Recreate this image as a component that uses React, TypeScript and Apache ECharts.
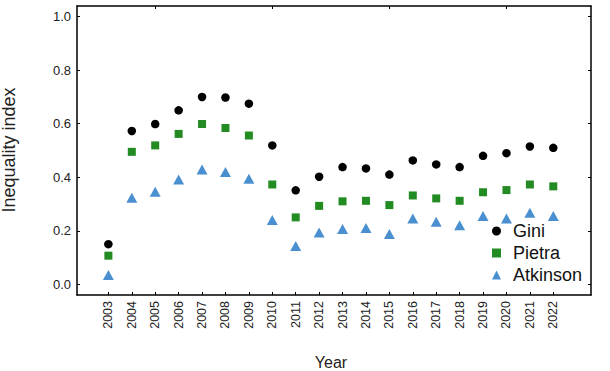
import React, { useEffect, useRef } from "react";
import * as echarts from "echarts";

const years = [2003, 2004, 2005, 2006, 2007, 2008, 2009, 2010, 2011, 2012, 2013, 2014, 2015, 2016, 2017, 2018, 2019, 2020, 2021, 2022];
const gini = [0.15, 0.573, 0.599, 0.65, 0.7, 0.698, 0.675, 0.519, 0.351, 0.402, 0.438, 0.433, 0.41, 0.463, 0.448, 0.438, 0.48, 0.49, 0.515, 0.51];
const pietra = [0.107, 0.495, 0.519, 0.562, 0.599, 0.584, 0.556, 0.373, 0.25, 0.293, 0.31, 0.312, 0.296, 0.332, 0.321, 0.312, 0.344, 0.352, 0.373, 0.366];
const atkinson = [0.035, 0.323, 0.346, 0.392, 0.429, 0.42, 0.394, 0.24, 0.143, 0.194, 0.207, 0.21, 0.188, 0.246, 0.234, 0.221, 0.255, 0.246, 0.267, 0.255];
const yTicks = [0, 0.2, 0.4, 0.6, 0.8, 1.0];
const topTicks = [2005, 2010, 2015, 2020];

const FONT = "'Liberation Sans', Arial, Helvetica, sans-serif";

export default function App() {
  const ref = useRef<HTMLDivElement>(null);
  useEffect(() => {
    if (!ref.current) return;
    const chart = echarts.init(ref.current, undefined, { renderer: "svg" });
    const lineStyle = { color: "#000", width: 1.5 };
    const option: any = {
      animation: false,
      backgroundColor: "#fff",
      textStyle: { fontFamily: FONT },
      grid: { left: 77, top: 6, right: 19, bottom: 76, containLabel: false },
      xAxis: [
        {
          type: "value",
          min: 2001.66,
          max: 2023.61,
          position: "bottom",
          axisLine: { show: true, lineStyle, onZero: false },
          axisTick: { show: true, inside: true, length: 3, customValues: years, lineStyle: { color: "#000", width: 1 } },
          axisLabel: {
            customValues: years,
            rotate: 90,
            margin: 6,
            fontSize: 12.5,
            color: "#222",
            fontFamily: FONT,
            formatter: (v: number) => String(Math.round(v)),
          },
          splitLine: { show: false },
        },
        {
          type: "value",
          min: 2001.66,
          max: 2023.61,
          position: "top",
          axisLine: { show: true, lineStyle, onZero: false },
          axisTick: { show: true, inside: true, length: 3, customValues: topTicks, lineStyle: { color: "#000", width: 1 } },
          axisLabel: { show: false, customValues: topTicks },
          splitLine: { show: false },
        },
      ],
      yAxis: [
        {
          type: "value",
          min: -0.04,
          max: 1.04,
          position: "left",
          axisLine: { show: true, lineStyle, onZero: false },
          axisTick: { show: true, inside: true, length: 3, customValues: yTicks, lineStyle: { color: "#000", width: 1 } },
          axisLabel: {
            customValues: yTicks,
            margin: 6,
            fontSize: 13,
            color: "#222",
            fontFamily: FONT,
            formatter: (v: number) => v.toFixed(1),
          },
          splitLine: { show: false },
        },
        {
          type: "value",
          min: -0.04,
          max: 1.04,
          position: "right",
          axisLine: { show: true, lineStyle, onZero: false },
          axisTick: { show: true, inside: true, length: 3, customValues: yTicks, lineStyle: { color: "#000", width: 1 } },
          axisLabel: { show: false, customValues: yTicks },
          splitLine: { show: false },
        },
      ],
      legend: {
        orient: "vertical",
        left: 492,
        top: 221,
        padding: 0,
        itemWidth: 9,
        itemHeight: 9,
        itemGap: 2,
        textStyle: { fontSize: 18, lineHeight: 20, color: "#111", fontFamily: FONT, padding: [0, 0, 0, 7] },
        data: [
          { name: "Gini", icon: "circle" },
          { name: "Pietra", icon: "rect" },
          { name: "Atkinson", icon: "triangle" },
        ],
      },
      series: [
        {
          name: "Gini",
          type: "scatter",
          symbol: "circle",
          symbolSize: 8.5,
          itemStyle: { color: "#000", opacity: 1 },
          data: years.map((y, i) => [y, gini[i]]),
        },
        {
          name: "Pietra",
          type: "scatter",
          symbol: "rect",
          symbolSize: 8,
          itemStyle: { color: "#228B22", opacity: 1 },
          data: years.map((y, i) => [y, pietra[i]]),
        },
        {
          name: "Atkinson",
          type: "scatter",
          symbol: "triangle",
          symbolSize: [11, 10],
          itemStyle: { color: "#4A90D0", opacity: 1 },
          data: years.map((y, i) => [y, atkinson[i]]),
        },
      ],
      graphic: [
        {
          type: "text",
          x: 9,
          y: 150,
          rotation: Math.PI / 2,
          style: {
            text: "Inequality index",
            fontSize: 18,
            fontFamily: FONT,
            fill: "#222",
            align: "center",
            verticalAlign: "middle",
          },
        },
        {
          type: "text",
          x: 331,
          y: 362,
          style: {
            text: "Year",
            fontSize: 16,
            fontFamily: FONT,
            fill: "#222",
            align: "center",
            verticalAlign: "middle",
          },
        },
      ],
    };
    chart.setOption(option);
    return () => chart.dispose();
  }, []);
  return <div ref={ref} style={{ position: "fixed", left: 0, top: 0, width: 610, height: 371 }} />;
}
